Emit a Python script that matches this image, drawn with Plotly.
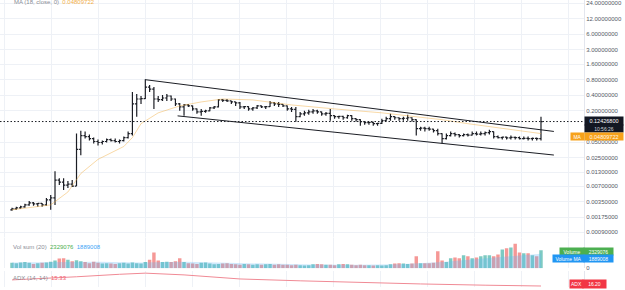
import plotly.graph_objects as go
import numpy as np

# ---- price data (OHLC) ----
opens = [0.00245, 0.00256, 0.00268, 0.00280, 0.00305, 0.00333, 0.00319, 0.00325, 0.00305, 0.00380,
         0.00415, 0.00918, 0.00840, 0.00736, 0.00769, 0.00704, 0.0359, 0.0665, 0.0637, 0.0583,
         0.0511, 0.0489, 0.0511, 0.0558, 0.0534, 0.0511, 0.0534, 0.0609, 0.0727, 0.272,
         0.339, 0.345, 0.575, 0.527, 0.339, 0.330, 0.354, 0.387, 0.339, 0.272,
         0.238, 0.260, 0.249, 0.218, 0.191, 0.195, 0.200, 0.228, 0.238, 0.325,
         0.320, 0.311, 0.297, 0.284, 0.238, 0.242, 0.218, 0.228, 0.249, 0.238,
         0.242, 0.284, 0.272, 0.266, 0.249, 0.218, 0.214, 0.154, 0.175, 0.183,
         0.191, 0.200, 0.191, 0.175, 0.179, 0.161, 0.154, 0.157, 0.147, 0.161,
         0.141, 0.135, 0.123, 0.118, 0.120, 0.113, 0.115, 0.129, 0.141, 0.154,
         0.147, 0.141, 0.144, 0.147, 0.135, 0.0906, 0.0926, 0.0906, 0.0886, 0.0829,
         0.0727, 0.0583, 0.0665, 0.0727, 0.0695, 0.0665, 0.0695, 0.0680, 0.0727, 0.0710,
         0.0727, 0.0760, 0.0794, 0.0637, 0.0609, 0.0620, 0.0600, 0.0615, 0.0605, 0.0583,
         0.0590, 0.0583, 0.0590, 0.0583]
highs = [0.00268, 0.00280, 0.00292, 0.00319, 0.00364, 0.00348, 0.00333, 0.00330, 0.00415, 0.00474,
         0.01364, 0.0100, 0.0100, 0.00878, 0.00918, 0.0727, 0.0829, 0.0794, 0.0695, 0.0609,
         0.0558, 0.0534, 0.0583, 0.0583, 0.0583, 0.0558, 0.0637, 0.0794, 0.462, 0.423,
         0.387, 0.818, 0.628, 0.575, 0.387, 0.405, 0.423, 0.395, 0.345, 0.284,
         0.272, 0.272, 0.255, 0.222, 0.218, 0.209, 0.238, 0.249, 0.339, 0.339,
         0.339, 0.315, 0.300, 0.297, 0.249, 0.245, 0.238, 0.260, 0.253, 0.249,
         0.311, 0.297, 0.297, 0.272, 0.253, 0.238, 0.238, 0.191, 0.200, 0.209,
         0.218, 0.209, 0.195, 0.191, 0.218, 0.164, 0.161, 0.160, 0.168, 0.164,
         0.144, 0.138, 0.126, 0.123, 0.123, 0.118, 0.141, 0.154, 0.175, 0.157,
         0.150, 0.154, 0.168, 0.150, 0.138, 0.0989, 0.0989, 0.0989, 0.0906, 0.0906,
         0.0740, 0.0727, 0.0794, 0.0760, 0.0710, 0.0727, 0.0727, 0.0794, 0.0794, 0.0794,
         0.0794, 0.0867, 0.0800, 0.0665, 0.0637, 0.0637, 0.0665, 0.0637, 0.0637, 0.0637,
         0.0637, 0.0609, 0.0609, 0.154]
lows = [0.00234, 0.00245, 0.00256, 0.00268, 0.00292, 0.00292, 0.00280, 0.00280, 0.00292, 0.00245,
        0.00305, 0.00736, 0.00591, 0.00645, 0.00674, 0.00704, 0.0276, 0.0583, 0.0534, 0.0468,
        0.0428, 0.0448, 0.0489, 0.0511, 0.0489, 0.0468, 0.0511, 0.0583, 0.0665, 0.154,
        0.272, 0.339, 0.462, 0.218, 0.297, 0.311, 0.311, 0.311, 0.249, 0.200,
        0.161, 0.238, 0.200, 0.175, 0.161, 0.183, 0.196, 0.218, 0.233, 0.297,
        0.297, 0.272, 0.249, 0.218, 0.218, 0.200, 0.200, 0.218, 0.228, 0.218,
        0.236, 0.249, 0.238, 0.238, 0.200, 0.191, 0.123, 0.150, 0.161, 0.168,
        0.175, 0.175, 0.161, 0.161, 0.129, 0.141, 0.141, 0.135, 0.141, 0.129,
        0.123, 0.103, 0.108, 0.108, 0.103, 0.103, 0.111, 0.126, 0.129, 0.135,
        0.129, 0.129, 0.129, 0.123, 0.0665, 0.0829, 0.0794, 0.0829, 0.0760, 0.0665,
        0.0468, 0.0558, 0.0637, 0.0637, 0.0609, 0.0637, 0.0637, 0.0665, 0.0665, 0.0665,
        0.0665, 0.0695, 0.0583, 0.0583, 0.0558, 0.0558, 0.0558, 0.0558, 0.0558, 0.0558,
        0.0534, 0.0534, 0.0534, 0.0534]
closes = [0.00256, 0.00268, 0.00280, 0.00305, 0.00333, 0.00319, 0.00325, 0.00305, 0.00380, 0.00415,
          0.00918, 0.00840, 0.00736, 0.00769, 0.00704, 0.0359, 0.0665, 0.0637, 0.0583, 0.0511,
          0.0489, 0.0511, 0.0558, 0.0534, 0.0511, 0.0534, 0.0609, 0.0727, 0.272, 0.339,
          0.345, 0.575, 0.527, 0.339, 0.330, 0.354, 0.387, 0.339, 0.272, 0.238,
          0.260, 0.249, 0.218, 0.191, 0.195, 0.200, 0.228, 0.238, 0.325, 0.320,
          0.311, 0.297, 0.284, 0.238, 0.242, 0.218, 0.228, 0.249, 0.238, 0.242,
          0.284, 0.272, 0.266, 0.249, 0.218, 0.214, 0.154, 0.175, 0.183, 0.191,
          0.200, 0.191, 0.175, 0.179, 0.161, 0.154, 0.157, 0.147, 0.161, 0.141,
          0.135, 0.123, 0.118, 0.120, 0.113, 0.115, 0.129, 0.141, 0.154, 0.147,
          0.141, 0.144, 0.147, 0.135, 0.0906, 0.0926, 0.0906, 0.0886, 0.0829, 0.0727,
          0.0583, 0.0665, 0.0727, 0.0695, 0.0665, 0.0695, 0.0680, 0.0727, 0.0710, 0.0727,
          0.0760, 0.0794, 0.0637, 0.0609, 0.0620, 0.0600, 0.0615, 0.0605, 0.0583, 0.0590,
          0.0583, 0.0590, 0.0583, 0.124268]

volumes = [700e3, 650e3, 750e3, 800e3, 700e3, 550e3, 650e3, 700e3, 750e3, 850e3,
           1.0e6, 1.25e6, 1.3e6, 1.1e6, 900e3, 1.05e6, 900e3, 800e3, 650e3, 850e3,
           700e3, 600e3, 650e3, 600e3, 550e3, 650e3, 700e3, 600e3, 750e3, 650e3,
           600e3, 800e3, 1.1e6, 2.05e6, 1.0e6, 800e3, 850e3, 800e3, 900e3, 1.3e6,
           800e3, 650e3, 600e3, 550e3, 700e3, 750e3, 600e3, 500e3, 550e3, 600e3,
           650e3, 550e3, 500e3, 450e3, 550e3, 500e3, 450e3, 500e3, 450e3, 500e3,
           550e3, 450e3, 500e3, 450e3, 450e3, 400e3, 450e3, 400e3, 350e3, 400e3,
           500e3, 550e3, 500e3, 450e3, 450e3, 400e3, 500e3, 550e3, 500e3, 450e3,
           400e3, 450e3, 400e3, 400e3, 350e3, 400e3, 350e3, 400e3, 500e3, 600e3,
           650e3, 600e3, 550e3, 600e3, 1.55e6, 650e3, 650e3, 650e3, 700e3, 2.2e6,
           1.0e6, 800e3, 1.3e6, 1.4e6, 1.3e6, 1.7e6, 1.55e6, 1.3e6, 1.4e6, 1.55e6,
           1.7e6, 1.7e6, 1.55e6, 1.8e6, 2.45e6, 2.6e6, 2.7e6, 3.2e6, 2.05e6, 1.95e6,
           1.95e6, 1.7e6, 1.55e6, 2329076]

# ---- indicator lines (read at sample bars) ----
ma_idx = [0, 9, 13, 16, 20, 26, 28, 30, 34, 39, 44, 49, 56, 65, 75, 86, 96, 100, 106, 115, 123]
ma_val = [0.00245, 0.00305, 0.00541, 0.0123, 0.0231, 0.0410, 0.0609, 0.113, 0.183, 0.249,
          0.297, 0.339, 0.325, 0.260, 0.218, 0.183, 0.147, 0.135, 0.113, 0.0906, 0.0727]
vma_idx = [0, 10, 20, 30, 40, 50, 60, 70, 80, 90, 100, 110, 117, 123]
vma_val = [750e3, 820e3, 850e3, 750e3, 850e3, 700e3, 550e3, 480e3, 450e3, 500e3, 800e3, 1.3e6, 1.65e6, 1889008]
adx_idx = [0, 5, 15, 25, 31, 40, 53, 67, 80, 95, 110, 123]
adx_val = [26, 27.5, 31, 35, 36.8, 34, 27.5, 24.5, 22, 19.5, 17.5, 16.2]

# ---- trend-line drawings (bar index, price) ----
upper_x = [31, 126.0]
upper_y = [0.80, 0.080]
lower_x = [38.5, 126.0]
lower_y = [0.16, 0.028]

price_ticks = [24, 12, 6, 3, 1.6, 0.8, 0.4, 0.2, 0.05, 0.025, 0.013, 0.007, 0.0035, 0.00175, 0.0009]
price_tick_text = [f"{v:.8f}" for v in price_ticks]

idx = list(range(len(closes)))
X_RANGE = [-2.79, 133.0]

FONT = "Liberation Sans, Arial, sans-serif"
GRID = "#eef1f6"

vol_colors = ["rgba(38,166,154,0.6)" if c >= o else "rgba(239,83,80,0.6)" for o, c in zip(opens, closes)]

fig = go.Figure()

fig.add_trace(go.Bar(x=idx, y=volumes, yaxis="y2", marker=dict(color=vol_colors, line=dict(width=0)),
                     width=0.8, hoverinfo="skip"))
fig.add_trace(go.Scatter(x=vma_idx, y=vma_val, yaxis="y2", mode="lines", line=dict(width=0),
                         fill="tozeroy", fillcolor="rgba(100,181,246,0.30)", hoverinfo="skip"))

fig.add_trace(go.Ohlc(x=idx, open=opens, high=highs, low=lows, close=closes,
                      increasing=dict(line=dict(color="#1b1d24", width=1.2)),
                      decreasing=dict(line=dict(color="#1b1d24", width=1.2)),
                      tickwidth=0.4, hoverinfo="skip"))

fig.add_trace(go.Scatter(x=ma_idx, y=ma_val, mode="lines", line=dict(color="rgba(240,170,60,0.45)", width=1),
                         hoverinfo="skip"))

fig.add_trace(go.Scatter(x=upper_x, y=upper_y, mode="lines", line=dict(color="#1b1d24", width=1), hoverinfo="skip"))
fig.add_trace(go.Scatter(x=lower_x, y=lower_y, mode="lines", line=dict(color="#1b1d24", width=1), hoverinfo="skip"))

fig.add_trace(go.Scatter(x=X_RANGE, y=[closes[-1], closes[-1]], mode="lines",
                         line=dict(color="#1b1d24", width=1, dash="1.5px,2px"), hoverinfo="skip"))

fig.add_trace(go.Scatter(x=adx_idx, y=adx_val, yaxis="y3", mode="lines",
                         line=dict(color="#f08a95", width=1), hoverinfo="skip"))

W, H = 625, 290
def px(x):
    return x / W
def py(y):
    return 1 - y / H

ann = []
def tag(text, x0, width, yc, height, bg, fc="white", size=6):
    ann.append(dict(text=text, xref="paper", yref="paper", x=px(x0), y=py(yc), xanchor="left", yanchor="middle",
                    showarrow=False, bgcolor=bg, width=width, height=height, borderpad=0, align="center",
                    font=dict(family=FONT, size=size, color=fc)))

def label(text, x0, yc, size=6):
    ann.append(dict(text=text, xref="paper", yref="paper", x=px(x0), y=py(yc), xanchor="left", yanchor="middle",
                    showarrow=False, align="left", font=dict(family=FONT, size=size, color="#8a8d96")))

label('MA (18, close, 0)  <span style="color:#f2b04a">0.04809722</span>', 12, 2)
label('Vol sum (20)  <span style="color:#4caf50">2329076</span>  <span style="color:#42a5f5">1889008</span>', 11, 250)
label('ADX (14, 14)  <span style="color:#f06070">15.33</span>', 11, 281)

tag("0.12426800", 584, 38, 122, 8, "#131722", size=5.5)
tag("10:56:26", 584, 38, 129.5, 7, "#131722", fc="#d1d4dc", size=5)
tag("MA", 570, 13, 137.5, 7, "#f7a21b", size=5)
tag("0.04809722", 584, 38, 137.5, 7, "#f7a21b", fc="#fff7e6", size=5.5)
tag("Volume", 559, 24, 254, 7, "#4caf50", size=5)
tag("2329076", 583, 29, 254, 7, "#4caf50", size=5)
tag("Volume MA", 552, 31, 261.5, 7, "#2196f3", size=5)
tag("1889008", 583, 29, 261.5, 7, "#2196f3", size=5)
tag("ADX", 569, 13, 287, 8, "#f23645", size=5)
tag("16.20", 582, 23, 287, 8, "#f23645", size=5)

fig.update_layout(
    width=W, height=H, margin=dict(l=0, r=0, t=0, b=0),
    paper_bgcolor="white", plot_bgcolor="white", showlegend=False,
    xaxis=dict(domain=[0, 584 / W], range=X_RANGE, showticklabels=False, showgrid=True, gridcolor=GRID,
               gridwidth=1, tick0=30.93, dtick=10.93, zeroline=False, rangeslider=dict(visible=False),
               showline=False, ticks=""),
    yaxis=dict(domain=[1 - 245 / H, 1], type="log", range=[-3.2419, 1.4425], side="right",
               tickvals=price_ticks, ticktext=price_tick_text, tickfont=dict(family=FONT, size=6, color="#555a66"),
               showgrid=True, gridcolor=GRID, zeroline=False, showline=True, linecolor="#e3e6ee", ticks=""),
    yaxis2=dict(domain=[19 / H, 50 / H], range=[0, 4.0e6], anchor="x", side="right",
                tickvals=[0], ticktext=["0"], tickfont=dict(family=FONT, size=6, color="#555a66"),
                showgrid=False, zeroline=False, showline=True, linecolor="#e3e6ee", ticks=""),
    yaxis3=dict(domain=[0, 16 / H], range=[14.6, 40], anchor="x", side="right", showticklabels=False,
                showgrid=False, zeroline=False, showline=True, linecolor="#e3e6ee", ticks=""),
    annotations=ann,
)

fig.write_html("out.html")
